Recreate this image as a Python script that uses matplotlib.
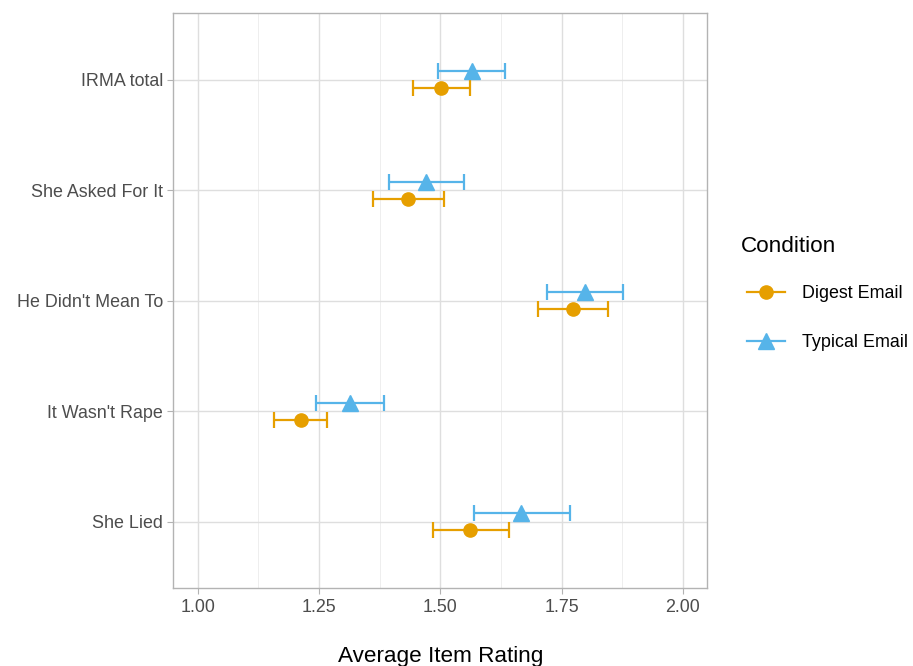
import matplotlib.pyplot as plt
from matplotlib.lines import Line2D
import numpy as np

plt.rcParams["font.family"] = ["Liberation Sans", "DejaVu Sans"]

items = ["She Lied", "It Wasn't Rape", "He Didn't Mean To", "She Asked For It", "IRMA total"]

digest_mean = [1.562, 1.212, 1.773, 1.434, 1.501]
digest_low = [1.484, 1.158, 1.701, 1.361, 1.443]
digest_high = [1.641, 1.266, 1.846, 1.507, 1.561]

typical_mean = [1.667, 1.313, 1.798, 1.471, 1.565]
typical_low = [1.569, 1.243, 1.719, 1.394, 1.496]
typical_high = [1.767, 1.384, 1.877, 1.549, 1.634]

ORANGE = "#E69F00"
BLUE = "#56B4E9"

fig = plt.figure(figsize=(9.13, 6.66), dpi=100)
ax = fig.add_axes([0.1899, 0.1171, 0.5847, 0.8629])

ypos = np.arange(1, len(items) + 1)
dodge = 0.078


def draw(means, lows, highs, offset, color, marker, msize):
    means = np.array(means)
    err = [means - np.array(lows), np.array(highs) - means]
    ax.errorbar(means, ypos + offset, xerr=err, fmt="none", ecolor=color,
                elinewidth=1.6, capsize=5.8, capthick=1.6, zorder=3)
    ax.plot(means, ypos + offset, linestyle="none", marker=marker,
            markersize=msize, color=color, zorder=4)


draw(digest_mean, digest_low, digest_high, -dodge, ORANGE, "o", 9.5)
draw(typical_mean, typical_low, typical_high, dodge, BLUE, "^", 11)

ax.set_xlim(0.95, 2.05)
ax.set_ylim(0.4, 5.6)
ax.set_xticks([1.0, 1.25, 1.5, 1.75, 2.0])
ax.set_xticklabels(["1.00", "1.25", "1.50", "1.75", "2.00"])
ax.set_xticks([1.125, 1.375, 1.625, 1.875], minor=True)
ax.set_yticks(ypos)
ax.set_yticklabels(items)

ax.grid(True, which="major", color="#dedede", linewidth=1.0, zorder=0)
ax.grid(True, which="minor", axis="x", color="#ebebeb", linewidth=0.6, zorder=0)
ax.set_axisbelow(True)
for spine in ax.spines.values():
    spine.set_color("#b3b3b3")
    spine.set_linewidth(1.0)
ax.tick_params(axis="both", which="major", colors="#b3b3b3", length=4,
               labelcolor="#4d4d4d", labelsize=12.9)
ax.tick_params(axis="x", which="major", pad=3.8)
ax.tick_params(axis="x", which="minor", length=0)

ax.set_xlabel("Average Item Rating", fontsize=16.2, labelpad=22, color="black")

# legend title drawn separately so the keys sit slightly indented, as in ggplot
fig.text(741 / 913, 1 - 247 / 666, "Condition", fontsize=16.2, va="center", ha="left")
handles = [
    Line2D([], [], color=ORANGE, marker="o", markersize=9.5, linewidth=1.6),
    Line2D([], [], color=BLUE, marker="^", markersize=11, linewidth=1.6),
]
fig.legend(handles, ["Digest Email", "Typical Email"],
           loc="center left", bbox_to_anchor=(747 / 913, 1 - 318 / 666),
           frameon=False, fontsize=12.9, labelspacing=1.81,
           handlelength=2.12, handletextpad=0.95, borderpad=0, borderaxespad=0)

fig.savefig("out.png", dpi=100)
